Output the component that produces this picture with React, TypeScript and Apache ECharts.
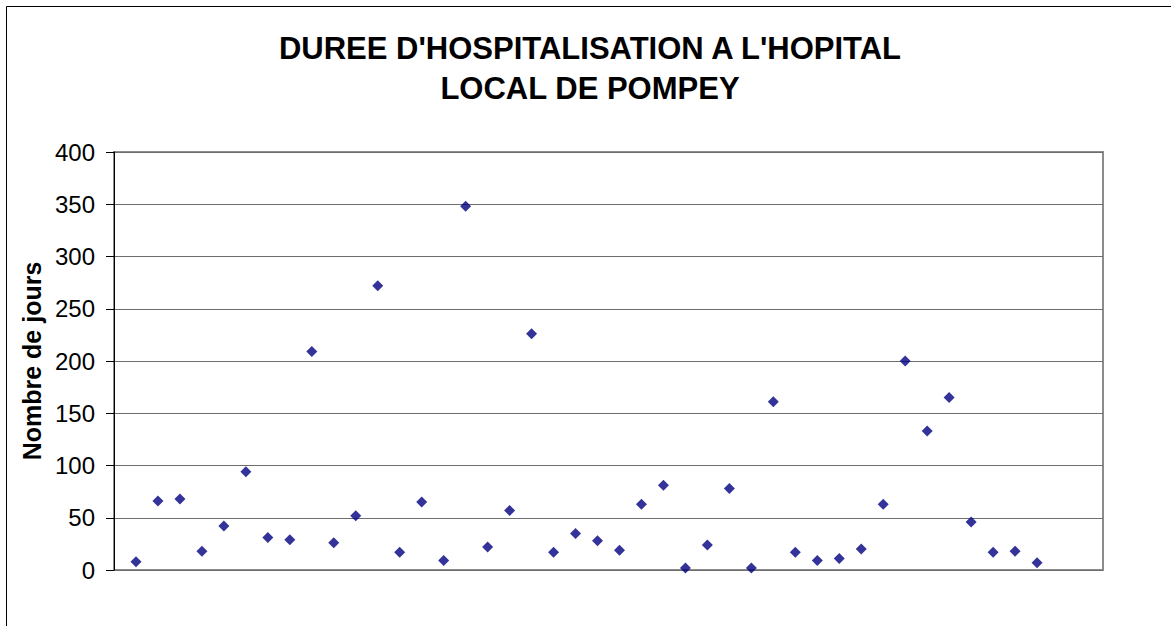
import React, { useEffect, useRef } from "react";
import * as echarts from "echarts";

const titleLines = ["DUREE D'HOSPITALISATION A L'HOPITAL", "LOCAL DE POMPEY"];
const yAxisName = "Nombre de jours";
const patientIndex = [
  1, 2, 3, 4, 5, 6, 7, 8, 9, 10, 11, 12, 13, 14, 15, 16, 17, 18, 19, 20, 21,
  22, 23, 24, 25, 26, 27, 28, 29, 30, 31, 32, 33, 34, 35, 36, 37, 38, 39, 40, 41, 42,
];
const days = [
  8, 66, 68, 18, 42, 94, 31, 29, 209, 26, 52, 272, 17, 65, 9, 348, 22, 57, 226, 17, 35,
  28, 19, 63, 81, 2, 24, 78, 2, 161, 17, 9, 11, 20, 63, 200, 133, 165, 46, 17, 18, 7,
];

export default function App() {
  const ref = useRef<HTMLDivElement>(null);
  useEffect(() => {
    if (!ref.current) return;
    const chart = echarts.init(ref.current, undefined, { renderer: "svg" });
    const font = "Arial, 'Liberation Sans', sans-serif";
    chart.setOption({
      animation: false,
      backgroundColor: "#ffffff",
      textStyle: { fontFamily: font },
      grid: {
        left: 114,
        top: 152,
        right: 68,
        bottom: 56,
        show: true,
        borderColor: "#8c8c8c",
        borderWidth: 2,
        containLabel: false,
      },
      xAxis: {
        type: "value",
        min: 0,
        max: 45,
        axisLine: { show: false },
        axisTick: { show: false },
        axisLabel: { show: false },
        splitLine: { show: false },
      },
      yAxis: {
        type: "value",
        min: 0,
        max: 400,
        interval: 50,
        name: yAxisName,
        nameLocation: "middle",
        nameRotate: 90,
        nameGap: 70,
        nameTextStyle: { fontSize: 25, fontWeight: "bold", color: "#000", fontFamily: font },
        axisLine: { show: true, lineStyle: { color: "#000", width: 1 } },
        axisTick: { show: true, inside: false, length: 8, lineStyle: { color: "#000" } },
        axisLabel: { fontSize: 24, color: "#000", margin: 19, fontFamily: font },
        splitLine: { show: true, lineStyle: { color: "#6e6e6e", width: 1 } },
      },
      graphic: [
        {
          type: "rect",
          shape: { x: 6.5, y: 6.5, width: 1300, height: 800 },
          style: { fill: "none", stroke: "#000", lineWidth: 1 },
          silent: true,
        },
        {
          type: "text",
          x: 590,
          y: 48,
          style: {
            text: titleLines[0],
            fontSize: 31,
            fontWeight: "bold",
            fontFamily: font,
            fill: "#000",
            textAlign: "center",
            textVerticalAlign: "middle",
          },
        },
        {
          type: "text",
          x: 590,
          y: 88,
          style: {
            text: titleLines[1],
            fontSize: 31,
            fontWeight: "bold",
            fontFamily: font,
            fill: "#000",
            textAlign: "center",
            textVerticalAlign: "middle",
          },
        },
      ],
      series: [
        {
          type: "scatter",
          symbol: "diamond",
          symbolSize: 11,
          itemStyle: { color: "#000080" },
          data: patientIndex.map((x, i) => [x, days[i]]),
        },
      ],
    });
    return () => chart.dispose();
  }, []);
  return (
    <div
      ref={ref}
      style={{ position: "absolute", left: 0, top: 0, width: 1171, height: 626 }}
    />
  );
}
